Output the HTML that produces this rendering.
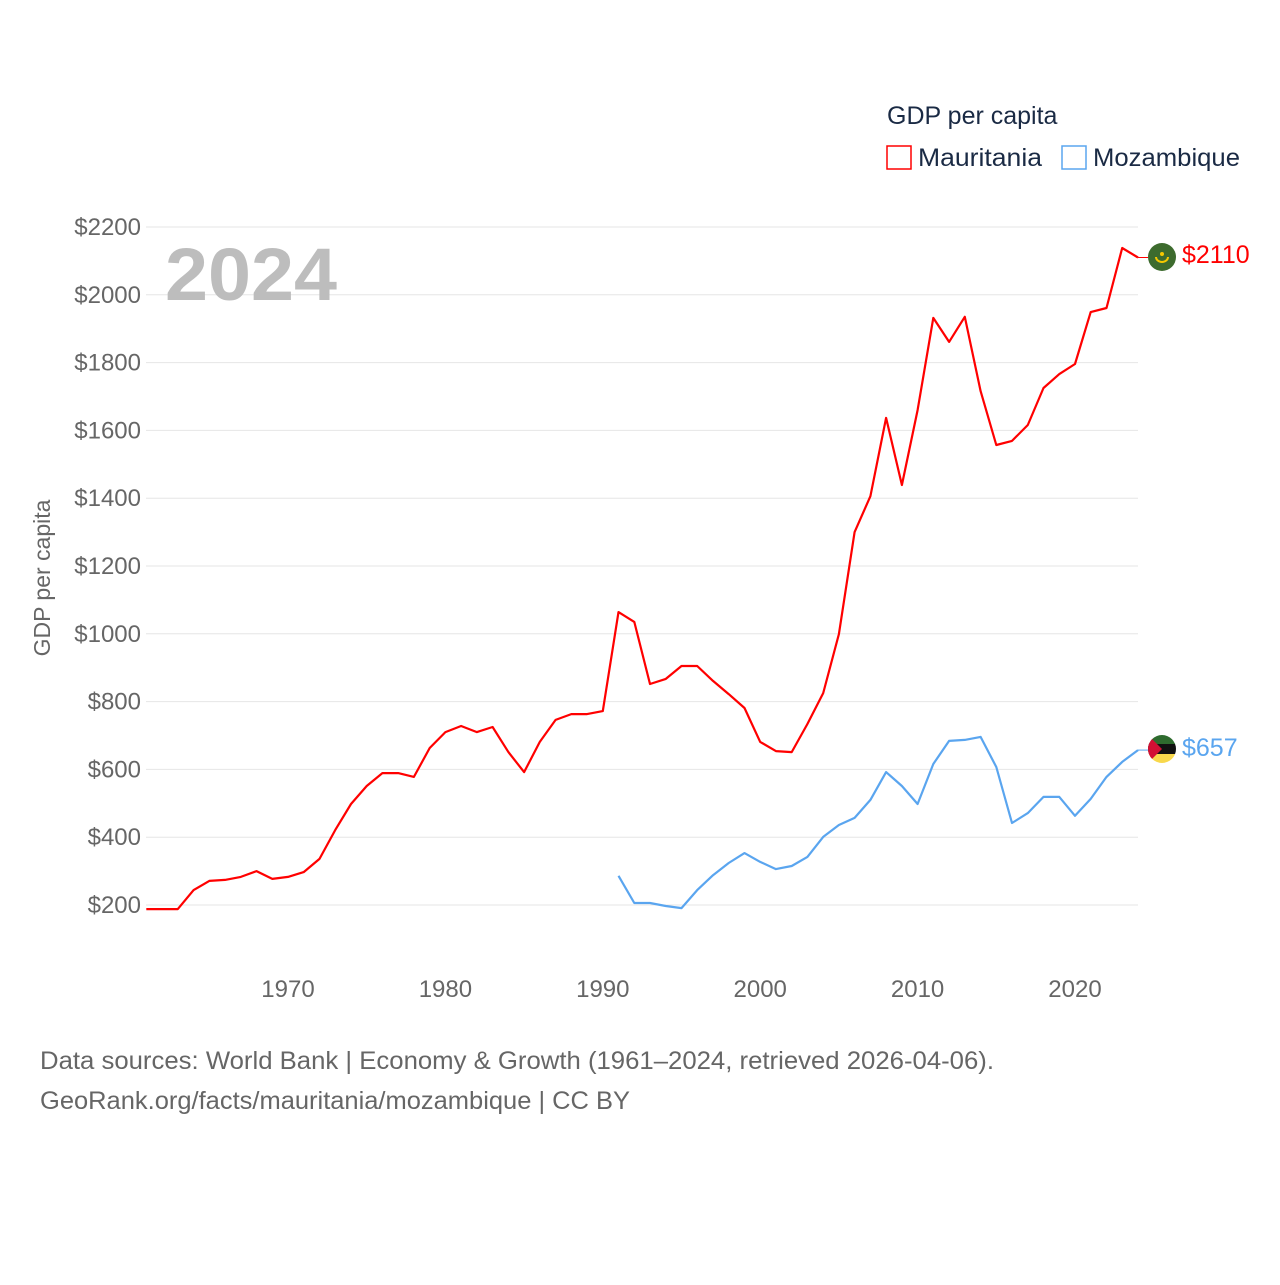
<!DOCTYPE html>
<html><head><meta charset="utf-8">
<style>
body{margin:0;background:#fff;font-family:"Liberation Sans",sans-serif;}
svg text{font-family:"Liberation Sans",sans-serif;}
</style></head>
<body>
<svg id="chart" width="1280" height="1280" xmlns="http://www.w3.org/2000/svg">
<rect width="1280" height="1280" fill="#fff"/>
<g id="grid"></g>
<g id="yticks"></g>
<g id="xticks"></g>
<text x="165" y="300" font-size="74" font-weight="bold" fill="#bdbdbd" textLength="172" lengthAdjust="spacingAndGlyphs">2024</text>
<text transform="translate(50,578) rotate(-90)" text-anchor="middle" font-size="23" fill="#666">GDP per capita</text>
<g id="series"></g>
<text x="887" y="124" font-size="25" fill="#1a2a44">GDP per capita</text>
<g>
<rect x="887" y="146" width="24" height="23" fill="none" stroke="#ff0000" stroke-width="1.5"/>
<text x="918" y="166" font-size="25" fill="#1a2a44" textLength="124" lengthAdjust="spacingAndGlyphs">Mauritania</text></g>
<g>
<rect x="1062" y="146" width="24" height="23" fill="none" stroke="#5aa5ef" stroke-width="1.5"/>
<text x="1093" y="166" font-size="25" fill="#1a2a44" textLength="147" lengthAdjust="spacingAndGlyphs">Mozambique</text></g>
<g>
<circle cx="1162" cy="257" r="14" fill="#3d6b2e"/>
<path d="M1156 257 a6 5 0 0 0 12 0" fill="none" stroke="#f5c800" stroke-width="2"/>
<circle cx="1162" cy="254" r="2" fill="#f5c800"/></g>
<g>
<clipPath id="mc"><circle cx="1162" cy="749" r="14"/></clipPath>
<g clip-path="url(#mc)">
<rect x="1148" y="735" width="28" height="9" fill="#2e6b2e"/>
<rect x="1148" y="744" width="28" height="10" fill="#111"/>
<rect x="1148" y="754" width="28" height="10" fill="#f8d84c"/>
<polygon points="1148,735 1162,749 1148,763" fill="#d21034"/></g></g>
<text x="1182" y="263" font-size="25" fill="#ff0000">$2110</text>
<text x="1182" y="756" font-size="25" fill="#5aa5ef">$657</text>
<text x="40" y="1069" font-size="25" fill="#666" textLength="954" lengthAdjust="spacingAndGlyphs">Data sources: World Bank | Economy &amp; Growth (1961–2024, retrieved 2026-04-06).</text>
<text x="40" y="1109" font-size="25" fill="#666" textLength="590" lengthAdjust="spacingAndGlyphs">GeoRank.org/facts/mauritania/mozambique | CC BY</text>
</svg>
<script>
const mauYears = [];
for (let y = 1961; y <= 2024; y++) mauYears.push(y);
const mauritania = [188,188,188,244,271,274,283,300,277,283,297,336,421,498,551,589,589,578,663,710,728,710,725,651,592,681,746,763,763,772,1064,1035,852,867,905,905,861,822,781,681,654,651,734,825,999,1300,1406,1637,1439,1660,1932,1861,1935,1716,1557,1569,1616,1725,1766,1796,1949,1961,2138,2110];
const mozYears = [];
for (let y = 1991; y <= 2024; y++) mozYears.push(y);
const mozambique = [286,206,206,197,191,244,288,324,353,327,306,315,342,401,436,457,510,592,551,498,616,684,687,696,607,442,471,519,519,463,513,578,622,657];
const yTicks = [200,400,600,800,1000,1200,1400,1600,1800,2000,2200];
const xTicks = [1970,1980,1990,2000,2010,2020];

const xs = v => 288 + (v - 1970) * 15.74;
const ys = v => 905 - (v - 200) * 0.339;
const NS = "http://www.w3.org/2000/svg";
function mk(tag, attrs, parent){const e=document.createElementNS(NS,tag);for(const k in attrs)e.setAttribute(k,attrs[k]);parent.appendChild(e);return e;}
const grid=document.getElementById('grid'), yt=document.getElementById('yticks'), xt=document.getElementById('xticks'), ser=document.getElementById('series');
yTicks.forEach(v=>{
  const l=mk('line',{x1:146,x2:1138,y1:ys(v),y2:ys(v),stroke:'#e6e6e6','stroke-width':1},grid);
  
  
  const t=mk('text',{x:141,y:ys(v)+8,'text-anchor':'end','font-size':24,fill:'#666'},yt);
  t.textContent='$'+v;
  
  
});
xTicks.forEach(v=>{
  const t=mk('text',{x:xs(v),y:997,'text-anchor':'middle','font-size':24,fill:'#666'},xt);
  t.textContent=v;
  
  
});
function line(years, vals, color, name){
  const d=years.map((y,i)=>(i?'L':'M')+xs(y).toFixed(1)+' '+ys(vals[i]).toFixed(1)).join(' ');
  const p=mk('path',{d:d,fill:'none',stroke:color,'stroke-width':2.2,'stroke-linejoin':'round'},ser);
  
  
  const last=vals[vals.length-1];
  const c=mk('line',{x1:xs(years[years.length-1]),x2:1148,y1:ys(last),y2:ys(last),stroke:color,'stroke-width':1},ser);
  
  
}
line(mauYears, mauritania, '#ff0000', 'line-mauritania');
line(mozYears, mozambique, '#5aa5ef', 'line-mozambique');
</script>
</body></html>
